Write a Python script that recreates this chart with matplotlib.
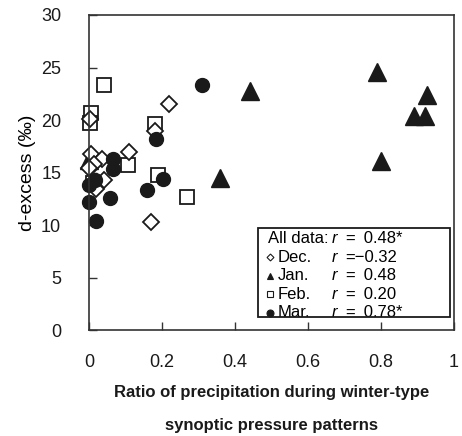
import matplotlib
matplotlib.use("Agg")
import matplotlib.pyplot as plt
from matplotlib.patches import Rectangle

plt.rcParams['font.family'] = ['Liberation Sans', 'DejaVu Sans']

# December (open diamonds)
dec_x = [0.003, 0.005, 0.035, 0.015, 0.0, 0.04, 0.02, 0.11, 0.22, 0.17, 0.18]
dec_y = [20.1, 16.8, 16.3, 15.8, 15.4, 14.3, 13.4, 17.0, 21.5, 10.3, 19.0]
# January (filled triangles)
jan_x = [0.0, 0.44, 0.79, 0.925, 0.89, 0.92, 0.80, 0.36]
jan_y = [16.2, 22.8, 24.6, 22.4, 20.4, 20.4, 16.1, 14.5]
# February (open squares)
feb_x = [0.042, 0.005, 0.003, 0.18, 0.107, 0.19, 0.268, 0.01]
feb_y = [23.3, 20.7, 19.7, 19.6, 15.7, 14.8, 12.7, 14.0]
# March (filled circles)
mar_x = [0.309, 0.184, 0.067, 0.067, 0.016, 0.0, 0.058, 0.0, 0.018, 0.16, 0.204]
mar_y = [23.3, 18.2, 16.3, 15.3, 14.3, 13.8, 12.6, 12.2, 10.4, 13.3, 14.4]

legend_labels = ["All data:", "Dec.", "Jan.", "Feb.", "Mar."]
legend_r = ["= \u20090.48*", "=\u22120.32", "= \u20090.48", "= \u20090.20", "= \u20090.78*"]

fig = plt.figure(figsize=(4.62, 4.36), dpi=100)
ax = fig.add_axes([0.1926, 0.2431, 0.79, 0.7225])

ax.plot(feb_x, feb_y, 's', ms=10.5, mfc='white', mec='#1a1a1a', mew=1.3, clip_on=False)
ax.plot(jan_x, jan_y, '^', ms=12.5, mfc='#1a1a1a', mec='#1a1a1a', clip_on=False)
ax.plot(dec_x, dec_y, 'D', ms=8, mfc='white', mec='#1a1a1a', mew=1.3, clip_on=False)
ax.plot(mar_x, mar_y, 'o', ms=10, mfc='#1a1a1a', mec='#1a1a1a', clip_on=False)

ax.set_xlim(0, 1)
ax.set_ylim(0, 30)
ax.set_xticks([0, 0.2, 0.4, 0.6, 0.8, 1])
ax.set_xticklabels(["0", "0.2", "0.4", "0.6", "0.8", "1"])
ax.set_yticks(range(0, 31, 5))
ax.tick_params(direction='in', length=6, width=1, colors='#333333', labelcolor='#1a1a1a',
               labelsize=13)
ax.tick_params(axis='x', pad=17)
ax.tick_params(axis='y', pad=20)
for s in ax.spines.values():
    s.set_color('#333333')
    s.set_linewidth(1.2)

ax.set_ylabel("d-excess (\u2030)", fontsize=14, labelpad=4)
fig.text(0.588, 0.10, "Ratio of precipitation during winter-type", ha='center', va='center',
         fontsize=12, fontweight='bold', color='#1a1a1a')
fig.text(0.588, 0.025, "synoptic pressure patterns", ha='center', va='center',
         fontsize=12, fontweight='bold', color='#1a1a1a')

# legend box
ax.add_patch(Rectangle((0.463, 0.040), 0.526, 0.285, transform=ax.transAxes,
                       fill=False, ec='#1a1a1a', lw=1.3, zorder=5))
markers = [None, ('D', 'white', 3.5), ('^', '#1a1a1a', 5), ('s', 'white', 4.5), ('o', '#1a1a1a', 5)]
for i, lab in enumerate(legend_labels):
    yy = 0.290 - i * 0.059
    if markers[i] is None:
        ax.text(0.490, yy, lab, transform=ax.transAxes, fontsize=12, va='center', ha='left')
    else:
        m, fc, s = markers[i]
        ax.plot(0.497, yy, m, ms=s, mfc=fc, mec='#1a1a1a', mew=0.8,
                transform=ax.transAxes, clip_on=False)
        ax.text(0.518, yy, lab, transform=ax.transAxes, fontsize=12, va='center', ha='left')
    ax.text(0.665, yy, "r", transform=ax.transAxes, fontsize=12, va='center', ha='left',
            style='italic')
    ax.text(0.703, yy, legend_r[i], transform=ax.transAxes, fontsize=12, va='center', ha='left')

fig.savefig("out.png", dpi=100)
